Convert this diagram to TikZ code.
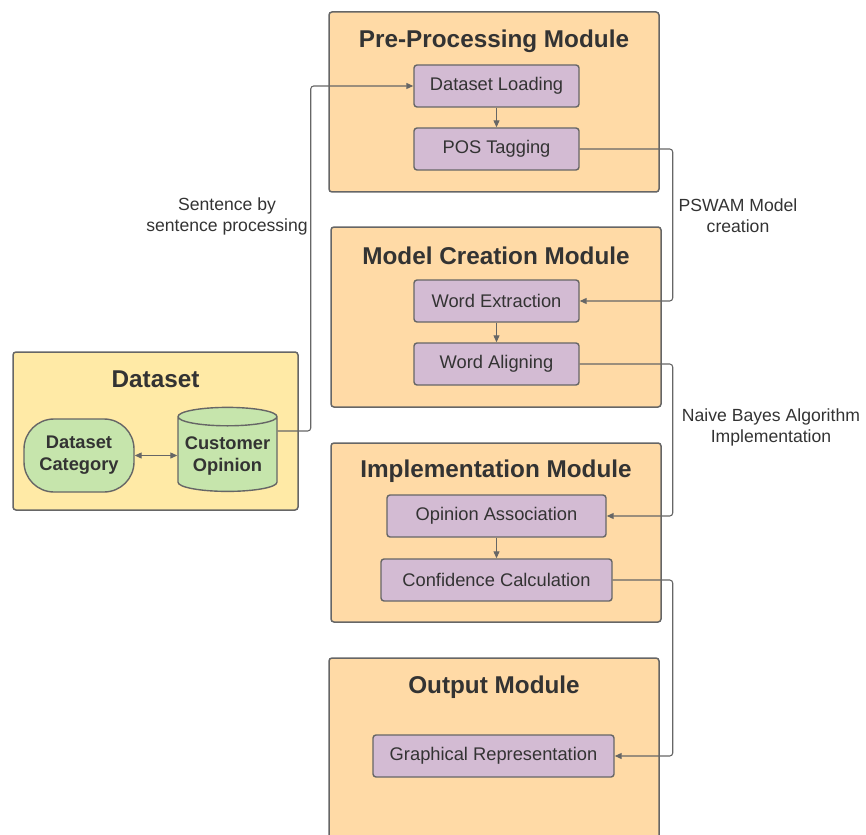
\documentclass[tikz,border=0pt]{standalone}
\usepackage{fontspec}
\setmainfont{Liberation Sans}
\usetikzlibrary{arrows.meta,shapes.geometric}
\definecolor{edge}{HTML}{666666}
\definecolor{ink}{HTML}{333333}
\definecolor{modfill}{HTML}{FFDAA6}
\definecolor{datafill}{HTML}{FFEAA6}
\definecolor{stepfill}{HTML}{D3BBD3}
\definecolor{greenfill}{HTML}{C6E5AC}

\begin{document}
\begin{tikzpicture}[x=1pt,y=-1pt,
    module/.style={draw=edge,fill=modfill,line width=1.5pt,rounded corners=3pt,minimum width=330pt,minimum height=180pt},
    title/.style={text=ink,font=\fontsize{24.3}{28}\selectfont\bfseries},
    stepbox/.style={draw=edge,fill=stepfill,line width=1.4pt,rounded corners=3pt,minimum height=42pt,text=ink,font=\fontsize{18.3}{21}\selectfont},
    lbl/.style={text=ink,align=center,font=\fontsize{17.6}{21}\selectfont},
    conn/.style={draw=edge,line width=1.1pt,rounded corners=3pt,-{Triangle[length=7pt,width=6pt]}}]
\useasboundingbox (0,0) rectangle (866,834);

% dataset
\node[draw=edge,fill=datafill,line width=1.5pt,rounded corners=3pt,minimum width=285pt,minimum height=158pt] (data) at (155.5,431) {};
\node[title] (datatitle) at (155.5,379) {Dataset};
\node[draw=edge,fill=greenfill,line width=1.4pt,rounded corners=30pt,minimum width=110pt,minimum height=73pt,
  align=center,text=ink,font=\fontsize{18.3}{22}\selectfont\bfseries] (cat) at (79,455.5) {Dataset\\Category};
\node[cylinder,shape border rotate=90,aspect=0.2,draw=edge,fill=greenfill,line width=1.4pt,minimum width=99pt,minimum height=84pt,
  align=center,text=ink,font=\fontsize{18.3}{22}\selectfont\bfseries] (cust) at (227.5,456) {Customer\\Opinion};
\draw[draw=edge,line width=1.1pt,{Triangle[length=7pt,width=6pt]}-{Triangle[length=7pt,width=6pt]}] (cat) -- (cat -| cust.west);

% modules
\node[module] (pre) at (494,102) {};
\node[title] (pretitle) at (494,41) {Pre-Processing Module};
\node[stepbox,minimum width=165pt] (load) at (496.5,86) {Dataset Loading};
\node[stepbox,minimum width=165pt] (pos) at (496.5,149) {POS Tagging};

\node[module] (model) at (496,317) {};
\node[title] (modeltitle) at (496,256) {Model Creation Module};
\node[stepbox,minimum width=165pt] (wext) at (496.5,301) {Word Extraction};
\node[stepbox,minimum width=165pt] (walign) at (496.5,364) {Word Aligning};

\node[module,minimum height=179pt] (impl) at (496,532.5) {};
\node[title] (impltitle) at (496,471) {Implementation Module};
\node[stepbox,minimum width=219pt] (opass) at (496.5,516) {Opinion Association};
\node[stepbox,minimum width=231pt] (conf) at (496.5,580) {Confidence Calculation};

\node[module,minimum height=200pt] (out) at (494,758) {};
\node[title] (outtitle) at (494,687) {Output Module};
\node[stepbox,minimum width=241pt] (graph) at (493.5,756) {Graphical Representation};

% connectors
\draw[conn] (load) -- (pos);
\draw[conn] (wext) -- (walign);
\draw[conn] (opass) -- (conf);
\draw[conn] ([yshift=25pt]cust.east) -- ++(33,0) |- (load.west);
\draw[conn] (pos.east) -- ++(93,0) |- (wext.east);
\draw[conn] (walign.east) -- ++(93,0) |- (opass.east);
\draw[conn] (conf.east) -- ++(60,0) |- (graph.east);

% labels
\node[lbl] (l1) at (227,216) {Sentence by\\sentence processing};
\node[lbl] (l2) at (738,216) {PSWAM Model\\creation};
\node[lbl] (l3) at (771,427) {Naive Bayes Algorithm\\Implementation};
\end{tikzpicture}
\end{document}
